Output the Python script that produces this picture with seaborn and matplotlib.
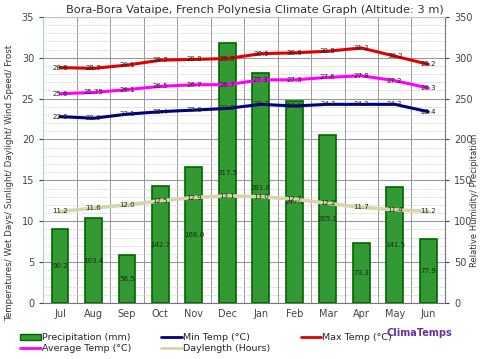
import numpy as np
import pandas as pd
import seaborn as sns
import matplotlib.pyplot as plt
from matplotlib.ticker import MultipleLocator
from matplotlib.patches import Patch
from matplotlib.lines import Line2D

months = ['Jul', 'Aug', 'Sep', 'Oct', 'Nov', 'Dec', 'Jan', 'Feb', 'Mar', 'Apr', 'May', 'Jun']
precip = [90.2, 103.4, 58.5, 142.7, 166.0, 317.5, 281.6, 247.7, 205.1, 73.3, 141.5, 77.9]
max_temp = [28.8, 28.7, 29.1, 29.7, 29.8, 29.9, 30.5, 30.6, 30.8, 31.2, 30.2, 29.2]
avg_temp = [25.6, 25.75, 26.1, 26.5, 26.7, 26.7, 27.3, 27.3, 27.6, 27.8, 27.2, 26.3]
min_temp = [22.8, 22.6, 23.1, 23.4, 23.6, 23.8, 24.3, 24.1, 24.3, 24.3, 24.3, 23.4]
daylength = [11.2, 11.6, 12.0, 12.5, 12.9, 13.1, 13.0, 12.7, 12.2, 11.7, 11.4, 11.2]

df = pd.DataFrame({'month': months, 'precip': precip, 'max': max_temp,
                   'avg': avg_temp, 'min': min_temp, 'day': daylength})

sns.set_style('white')
plt.rcParams['font.family'] = ['DejaVu Sans']

fig = plt.figure(figsize=(4.8, 3.59), dpi=100)
ax2 = fig.add_axes([0.09, 0.156, 0.837, 0.797])
ax = ax2.twinx()
# left axis (temps) should draw on top of the bars
ax.yaxis.tick_left()
ax.yaxis.set_label_position('left')
ax2.yaxis.tick_right()
ax2.yaxis.set_label_position('right')
ax.set_zorder(ax2.get_zorder() + 1)
ax.patch.set_visible(False)

# gridlines on the bar axis so they sit behind everything
ax2.set_ylim(0, 350)
ax2.yaxis.set_major_locator(MultipleLocator(50))
ax2.yaxis.set_minor_locator(MultipleLocator(10))
ax2.grid(which='major', axis='y', color='#999999', lw=0.8)
ax2.grid(which='minor', axis='y', color='#cccccc', lw=0.5, ls=(0, (2, 1)))
for xb in np.arange(0.5, 11.5, 1):
    ax2.axvline(xb, color='#999999', lw=0.7, zorder=0)
ax2.set_axisbelow(True)

sns.barplot(data=df, x='month', y='precip', ax=ax2, color='#339933', width=0.5,
            edgecolor='#006600', linewidth=1.2, saturation=1)
for i, v in enumerate(precip):
    ax2.text(i, v / 2, f'{v:.1f}', ha='center', va='center', fontsize=5, color='#222222')

series = [('max', '#e00000'), ('avg', '#ff00ff'), ('min', '#000080'), ('day', '#d6d6a8')]
for col, c in series:
    sns.lineplot(data=df, x='month', y=col, ax=ax, color=c, lw=2.2 if col != 'day' else 2.6,
                 sort=False, legend=False)
    for i, v in enumerate(df[col]):
        txt = '25.75' if col == 'avg' and i == 1 else f'{v:.1f}'
        ax.text(i, v, txt, ha='center', va='center', fontsize=5, color='#222222')

ax.set_ylim(0, 35)
ax.set_xlim(-0.5, 11.5)
ax2.set_xlim(-0.5, 11.5)
ax.yaxis.set_major_locator(MultipleLocator(5))
ax.tick_params(axis='y', labelsize=7, colors='#444444', length=3, direction='out')
ax2.tick_params(axis='y', labelsize=7, colors='#444444', length=3, direction='out')
ax2.tick_params(axis='y', which='minor', length=0)
ax.set_xticks(np.arange(12))
ax.set_xticklabels(months)
ax2.set_xticks(np.arange(-0.5, 12, 1), minor=True)
ax2.tick_params(axis='x', which='major', length=0, labelsize=7, colors='#444444', pad=4)
ax2.tick_params(axis='x', which='minor', length=4, color='#666666')
ax.tick_params(axis='x', length=0)
ax2.set_xlabel('')
ax.set_xlabel('')

ax.set_ylabel('Temperatures/ Wet Days/ Sunlight/ Daylight/ Wind Speed/ Frost',
              fontsize=6.3, color='#333333')
ax.yaxis.set_label_coords(-0.072, 0.42)
ax2.set_ylabel('Relative Humidity/ Precipitation', fontsize=6, color='#333333')
ax2.yaxis.set_label_coords(1.063, 0.36)

for a in (ax, ax2):
    for s in a.spines.values():
        s.set_visible(False)
ax2.spines['left'].set_visible(True)
ax2.spines['left'].set_color('#a8d8a8')
ax2.spines['top'].set_visible(True)
ax2.spines['top'].set_color('#b8e0b8')
ax2.spines['top'].set_linestyle(':')
ax2.spines['right'].set_visible(True)
ax2.spines['right'].set_color('#777777')
ax2.spines['bottom'].set_visible(True)
ax2.spines['bottom'].set_color('#777777')

fig.text(0.53, 0.985, 'Bora-Bora Vataipe, French Polynesia Climate Graph (Altitude: 3 m)',
         ha='center', va='top', fontsize=8.2, color='#333333')

# column-major fill: gives rows Precip/Min/Max then Avg/Daylength
handles = [Patch(facecolor='#339933', edgecolor='#006600', label='Precipitation (mm)'),
           Line2D([], [], color='#ff00ff', lw=2, label='Average Temp (°C)'),
           Line2D([], [], color='#000080', lw=2, label='Min Temp (°C)'),
           Line2D([], [], color='#d6d6a8', lw=2, label='Daylength (Hours)'),
           Line2D([], [], color='#e00000', lw=2, label='Max Temp (°C)')]
fig.legend(handles=handles, loc='lower left', bbox_to_anchor=(0.03, 0.0), ncol=3,
           frameon=False, fontsize=6.8, handlelength=2.2, handletextpad=0.1,
           columnspacing=3.2, labelspacing=0.2, borderaxespad=0.2)
fig.text(0.805, 0.065, 'ClimaTemps', fontsize=7, color='#663399', fontweight='bold')

fig.savefig('out.png', dpi=100)
